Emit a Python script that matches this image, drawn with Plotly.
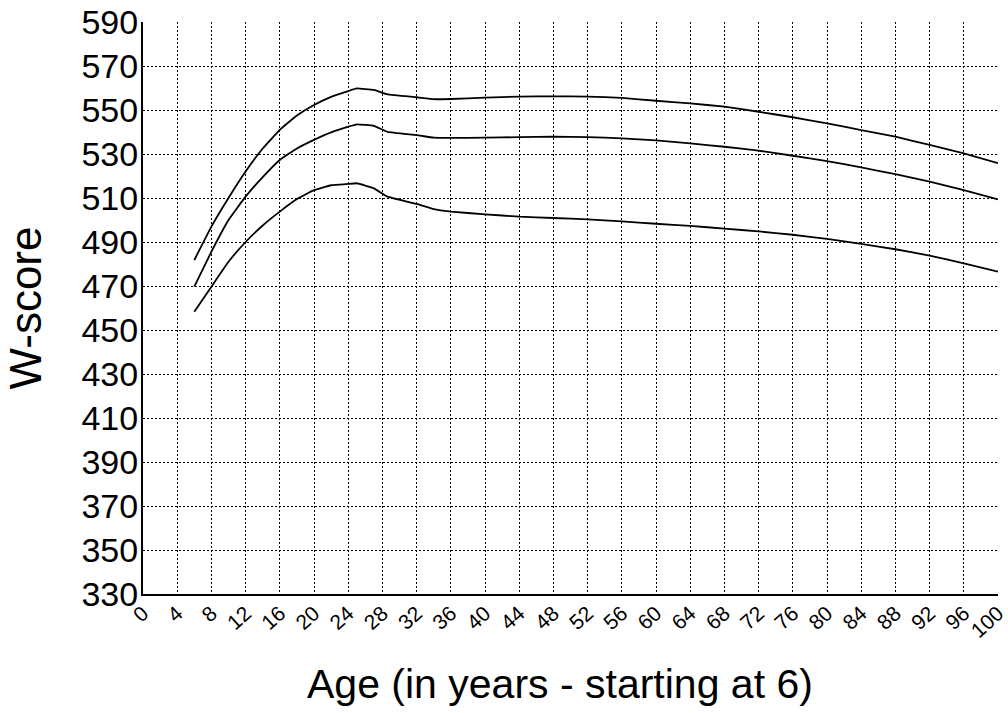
import plotly.graph_objects as go

ages = [6, 8, 10, 12, 14, 16, 18, 20, 22, 24, 25, 27, 28.6, 32, 34, 36,
        40, 44, 48, 52, 56, 60, 64, 68, 72, 76, 80, 84, 88, 92, 96, 100]

upper = [481.8, 497.0, 510.0, 522.0, 532.5, 541.0, 547.5, 552.3, 556.0, 558.6, 559.8, 559.1, 557.1, 555.8, 554.9, 555.0,
         555.6, 556.1, 556.2, 556.1, 555.5, 554.2, 553.0, 551.5, 549.2, 546.7, 543.9, 540.9, 537.9, 534.1, 530.3, 525.8]

middle = [469.7, 485.6, 500.0, 510.6, 519.5, 527.3, 532.5, 536.4, 539.8, 542.4, 543.5, 542.8, 540.1, 538.6, 537.4, 537.3,
          537.4, 537.7, 537.9, 537.7, 537.1, 536.2, 534.8, 533.3, 531.5, 529.2, 526.8, 523.9, 520.8, 517.4, 513.6, 509.4]

lower = [458.3, 469.7, 481.0, 490.0, 497.5, 503.8, 509.5, 513.6, 515.8, 516.4, 516.7, 514.4, 510.6, 507.3, 504.9, 503.8,
         502.6, 501.5, 500.9, 500.3, 499.4, 498.3, 497.3, 496.1, 494.8, 493.3, 491.4, 489.1, 486.7, 483.8, 480.3, 476.5]

x_ticks = list(range(0, 101, 4))
y_ticks = list(range(330, 591, 20))

x_title = "Age (in years - starting at 6)"
y_title = "W-score"

FONT = "Arial, 'Liberation Sans', sans-serif"

fig = go.Figure()
for ys in (upper, middle, lower):
    fig.add_trace(go.Scatter(x=ages, y=ys, mode="lines", line_shape="spline",
                             line=dict(color="black", width=1.8, smoothing=0.3), showlegend=False,
                             hoverinfo="skip"))

fig.update_layout(
    width=1008, height=713,
    margin=dict(l=143, r=10, t=22, b=119),
    plot_bgcolor="white", paper_bgcolor="white",
    font=dict(family=FONT, color="black"),
)

fig.update_xaxes(
    range=[0, 100], tickvals=x_ticks, ticktext=[str(v) for v in x_ticks],
    tickangle=-42, tickfont=dict(size=21, family=FONT, color="black"),
    showgrid=True, gridcolor="black", gridwidth=1, griddash="2px,2px",
    showline=True, linecolor="black", linewidth=2, mirror=False,
    ticks="", zeroline=False, ticklabelstandoff=-3,
    automargin=False,
)
fig.update_yaxes(
    range=[330, 590], tickvals=y_ticks, ticktext=[str(v) for v in y_ticks],
    tickfont=dict(size=34, family=FONT, color="black"),
    showgrid=True, gridcolor="black", gridwidth=1, griddash="2px,2px",
    showline=True, linecolor="black", linewidth=2, mirror=False,
    ticks="", zeroline=False, ticklabelstandoff=-4,
    title=dict(text=y_title, font=dict(size=44, family=FONT, color="black"), standoff=26),
    automargin=False,
)

fig.add_annotation(
    text=x_title, xref="paper", yref="paper",
    x=(560 - 143) / 855, y=-(709 - 594) / 572,
    xanchor="center", yanchor="bottom", showarrow=False,
    font=dict(size=41, family=FONT, color="black"),
)

fig.write_html("out.html")
